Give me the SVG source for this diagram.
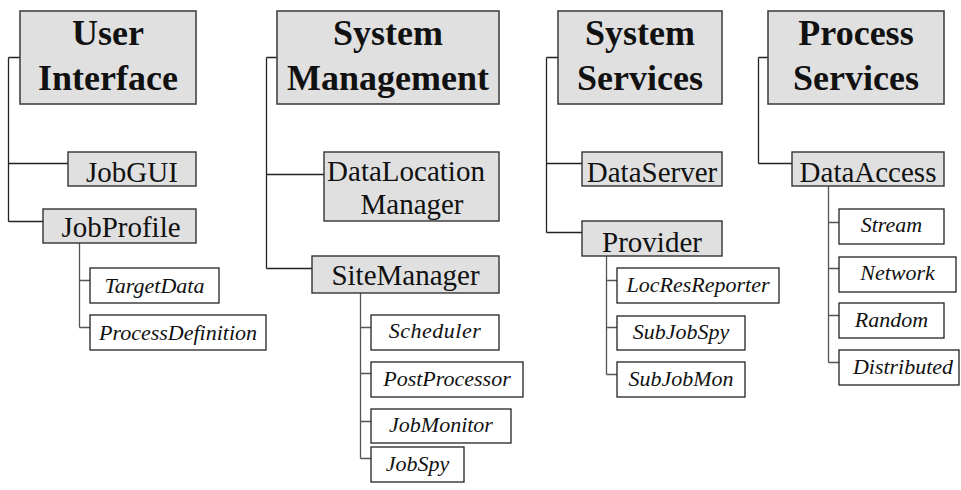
<svg xmlns="http://www.w3.org/2000/svg" width="961" height="490" viewBox="0 0 961 490">
<style>
.bg{fill:#ffffff}
.title rect{fill:#e0e0e0;stroke:#444;stroke-width:1.6}
.node rect{fill:#e0e0e0;stroke:#333;stroke-width:1.4}
.leaf rect{fill:#ffffff;stroke:#222;stroke-width:1.3}
.title text{font-family:"Liberation Serif","Times New Roman",serif;font-weight:bold;font-size:36px;text-anchor:middle;fill:#111}
.node text{font-family:"Liberation Serif","Times New Roman",serif;font-size:29px;text-anchor:middle;fill:#111}
.leaf text{font-family:"Liberation Serif","Times New Roman",serif;font-style:italic;font-size:22px;text-anchor:middle;fill:#111}
#connectors path{fill:none;stroke:#222;stroke-width:1.3}
#connectors path.sub{stroke:#555}
</style>
<rect class="bg" x="0" y="0" width="961" height="490"/>
<g id="connectors">
<path d="M8.5 57.5V221.5M8.5 57.5H20M8.5 163.5H68M8.5 221.5H43"/>
<path class="sub" d="M79.5 243V327.5M79.5 280.5H90M79.5 327.5H90"/>
<path d="M266.5 57.5V268.5M266.5 57.5H277M266.5 174.5H324M266.5 268.5H312"/>
<path class="sub" d="M360.5 293V458.5M360.5 327.5H371M360.5 373.5H371M360.5 421.5H371M360.5 458.5H371"/>
<path d="M546.5 57.5V232.5M546.5 57.5H558M546.5 163.5H582M546.5 232.5H582"/>
<path class="sub" d="M606.5 256V374.5M606.5 280.5H617M606.5 327.5H617M606.5 374.5H617"/>
<path d="M758.5 57.5V163.5M758.5 57.5H768M758.5 163.5H792"/>
<path class="sub" d="M828.5 186V362.5M828.5 222.5H839M828.5 268.5H839M828.5 315.5H839M828.5 362.5H839"/>
</g>
<g id="user-interface" class="title"><rect x="20" y="11" width="176" height="93"/><text x="108" y="45">User</text><text x="108" y="90">Interface</text></g>
<g id="system-management" class="title"><rect x="277" y="11" width="222" height="93"/><text x="388" y="45">System</text><text x="388" y="90">Management</text></g>
<g id="system-services" class="title"><rect x="558" y="11" width="164" height="93"/><text x="640" y="45">System</text><text x="640" y="90">Services</text></g>
<g id="process-services" class="title"><rect x="768" y="11" width="176" height="93"/><text x="856" y="45">Process</text><text x="856" y="90">Services</text></g>

<g id="jobgui" class="node"><rect x="68" y="152" width="128" height="34"/><text x="132" y="182">JobGUI</text></g>
<g id="jobprofile" class="node"><rect x="43" y="209" width="153" height="34"/><text x="121" y="237">JobProfile</text></g>
<g id="targetdata" class="leaf"><rect x="90" y="268" width="129" height="35"/><text x="154.5" y="293">TargetData</text></g>
<g id="processdefinition" class="leaf"><rect x="90" y="315" width="176" height="35"/><text x="178" y="340">ProcessDefinition</text></g>

<g id="datalocationmanager" class="node"><rect x="324" y="152" width="175" height="69"/><text x="406" y="181">DataLocation</text><text x="412" y="214">Manager</text></g>
<g id="sitemanager" class="node"><rect x="312" y="256" width="187" height="37"/><text x="405.5" y="285">SiteManager</text></g>
<g id="scheduler" class="leaf"><rect x="371" y="315" width="128" height="35"/><text x="435" y="338" letter-spacing="0.5">Scheduler</text></g>
<g id="postprocessor" class="leaf"><rect x="371" y="362" width="152" height="35"/><text x="447" y="386">PostProcessor</text></g>
<g id="jobmonitor" class="leaf"><rect x="371" y="409" width="140" height="34"/><text x="441" y="432">JobMonitor</text></g>
<g id="jobspy" class="leaf"><rect x="371" y="447" width="93" height="35"/><text x="417.5" y="471">JobSpy</text></g>

<g id="dataserver" class="node"><rect x="582" y="152" width="140" height="34"/><text x="652" y="182">DataServer</text></g>
<g id="provider" class="node"><rect x="582" y="221" width="140" height="35"/><text x="652" y="252">Provider</text></g>
<g id="locresreporter" class="leaf"><rect x="617" y="268" width="162" height="35"/><text x="698" y="292">LocResReporter</text></g>
<g id="subjobspy" class="leaf"><rect x="617" y="316" width="128" height="34"/><text x="681" y="339">SubJobSpy</text></g>
<g id="subjobmon" class="leaf"><rect x="617" y="362" width="128" height="35"/><text x="681" y="386">SubJobMon</text></g>

<g id="dataaccess" class="node"><rect x="792" y="152" width="152" height="34"/><text x="868" y="182">DataAccess</text></g>
<g id="stream" class="leaf"><rect x="839" y="209" width="105" height="35"/><text x="891.5" y="232">Stream</text></g>
<g id="network" class="leaf"><rect x="839" y="257" width="117" height="35"/><text x="897.5" y="280">Network</text></g>
<g id="random" class="leaf"><rect x="839" y="303" width="105" height="35"/><text x="891.5" y="327">Random</text></g>
<g id="distributed" class="leaf"><rect x="839" y="350" width="120" height="35"/><text x="903" y="374">Distributed</text></g>
</svg>
